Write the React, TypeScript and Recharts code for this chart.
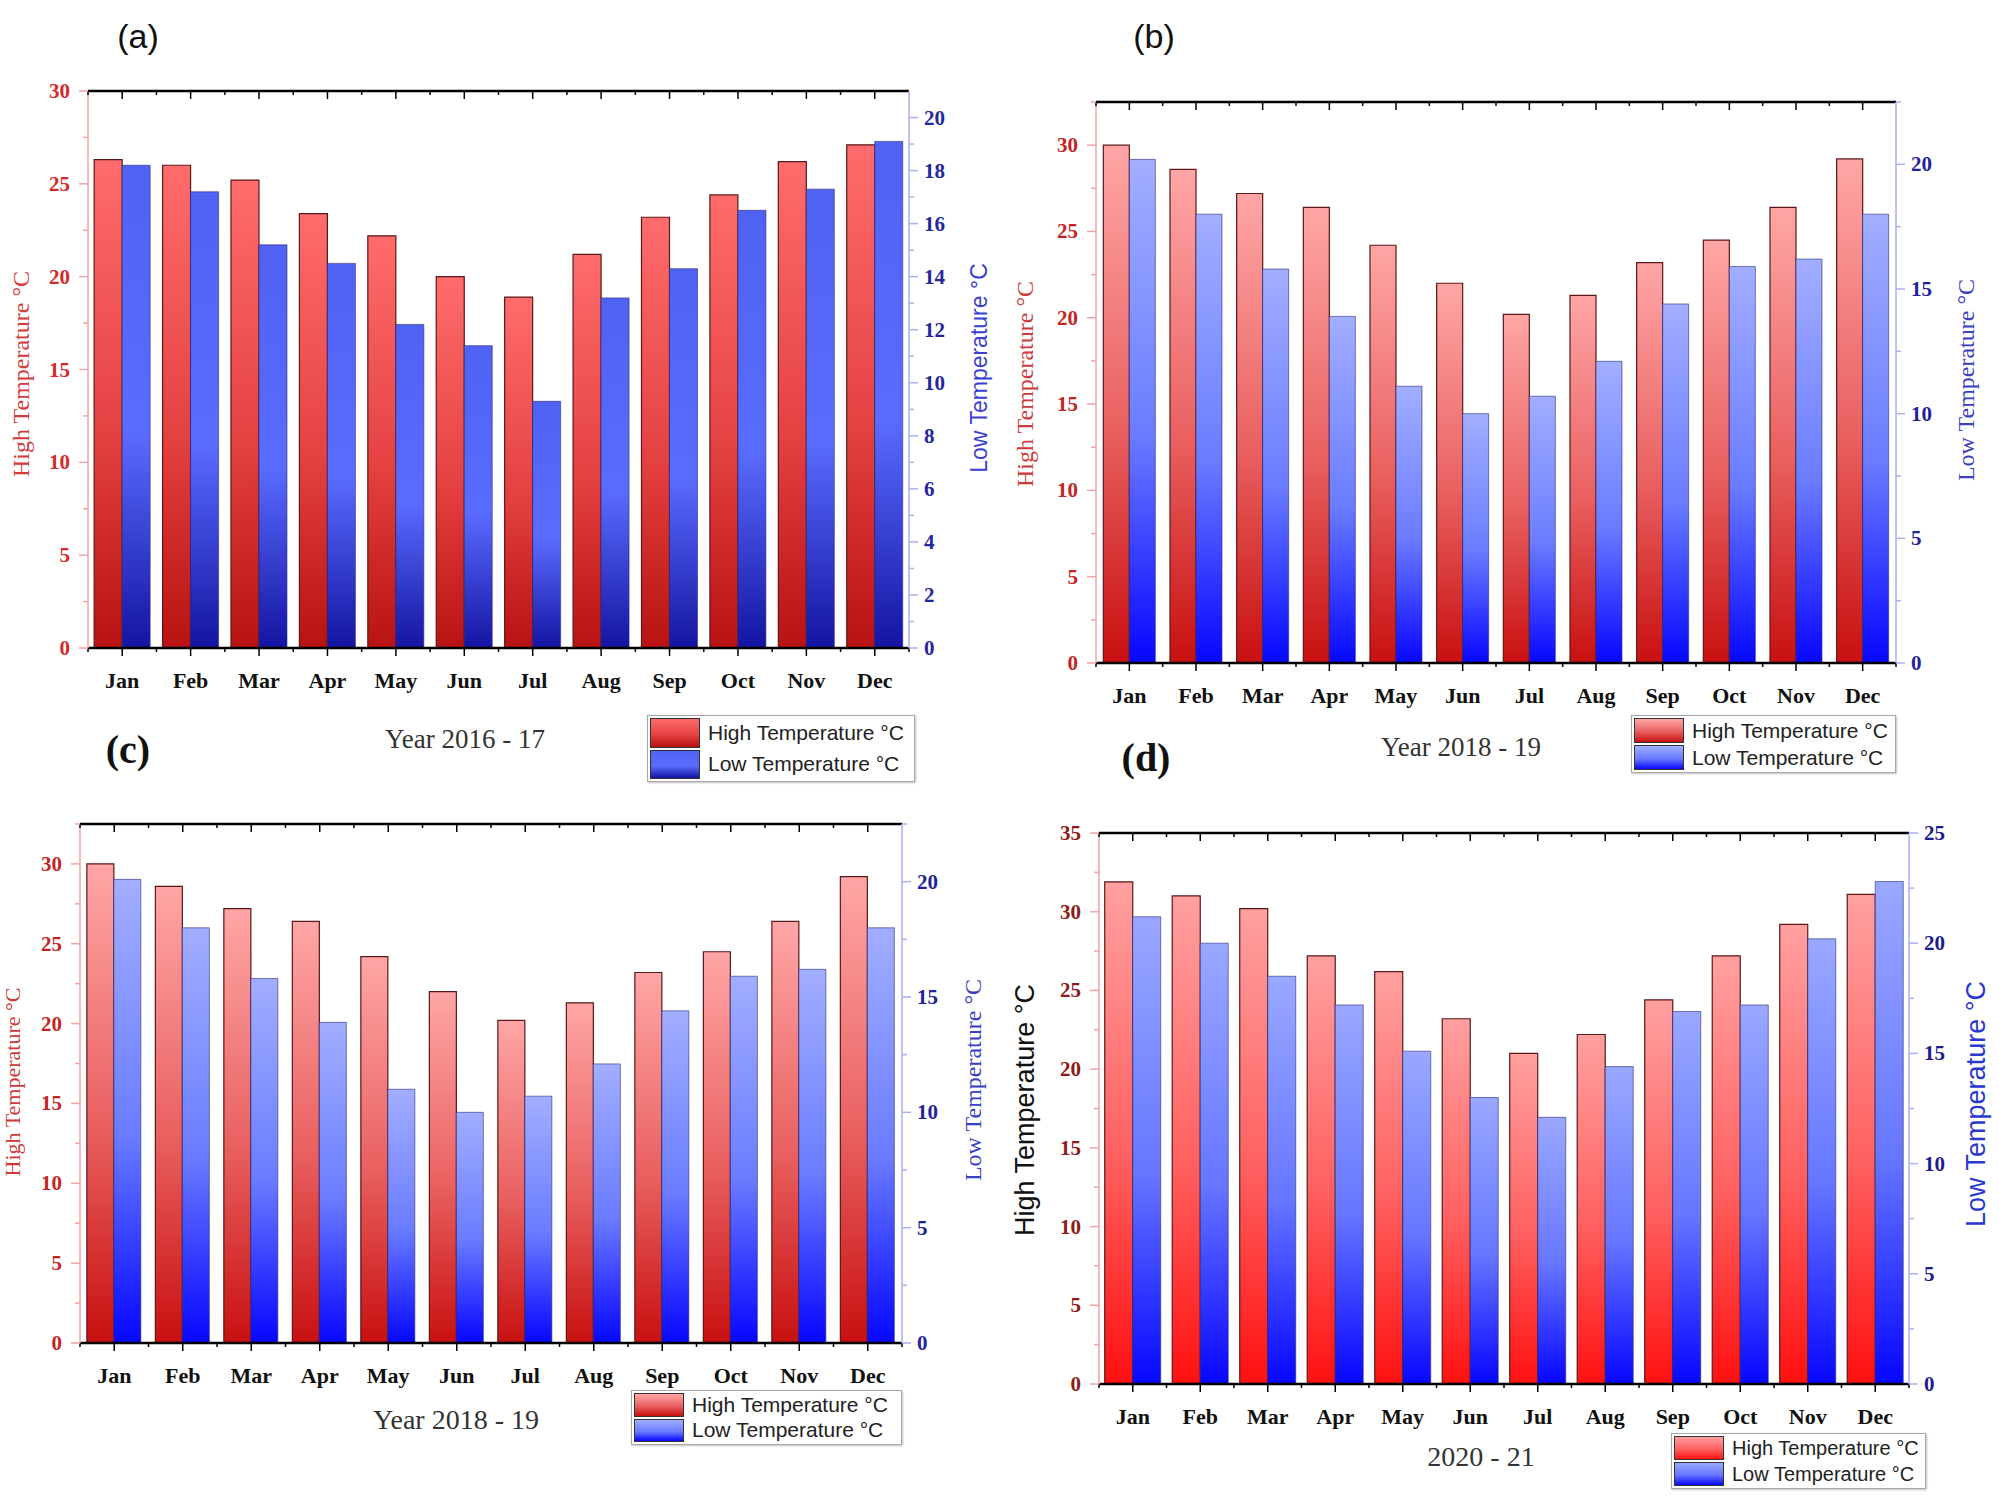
import React from 'react';
import { BarChart, Bar, XAxis, YAxis } from 'recharts';

// ---------------- DATA ----------------
const months = ['Jan', 'Feb', 'Mar', 'Apr', 'May', 'Jun', 'Jul', 'Aug', 'Sep', 'Oct', 'Nov', 'Dec'];

// (a) Year 2016 - 17
const highA = [26.3, 26.0, 25.2, 23.4, 22.2, 20.0, 18.9, 21.2, 23.2, 24.4, 26.2, 27.1];
const lowA = [18.2, 17.2, 15.2, 14.5, 12.2, 11.4, 9.3, 13.2, 14.3, 16.5, 17.3, 19.1];

// (b) Year 2018 - 19
const highB = [30.0, 28.6, 27.2, 26.4, 24.2, 22.0, 20.2, 21.3, 23.2, 24.5, 26.4, 29.2];
const lowB = [20.2, 18.0, 15.8, 13.9, 11.1, 10.0, 10.7, 12.1, 14.4, 15.9, 16.2, 18.0];

// (c) Year 2018 - 19
const highC = [30.0, 28.6, 27.2, 26.4, 24.2, 22.0, 20.2, 21.3, 23.2, 24.5, 26.4, 29.2];
const lowC = [20.1, 18.0, 15.8, 13.9, 11.0, 10.0, 10.7, 12.1, 14.4, 15.9, 16.2, 18.0];

// (d) 2020 - 21
const highD = [31.9, 31.0, 30.2, 27.2, 26.2, 23.2, 21.0, 22.2, 24.4, 27.2, 29.2, 31.1];
const lowD = [21.2, 20.0, 18.5, 17.2, 15.1, 13.0, 12.1, 14.4, 16.9, 17.2, 20.2, 22.8];

// tick labels
const leftTicksA = [0, 5, 10, 15, 20, 25, 30];
const leftMinorA = [2.5, 7.5, 12.5, 17.5, 22.5, 27.5];
const rightTicksA = [0, 2, 4, 6, 8, 10, 12, 14, 16, 18, 20];
const rightMinorA = [1, 3, 5, 7, 9, 11, 13, 15, 17, 19];

const leftTicksB = [0, 5, 10, 15, 20, 25, 30];
const leftMinorB = [2.5, 7.5, 12.5, 17.5, 22.5, 27.5, 32.5];
const rightTicksB = [0, 5, 10, 15, 20];
const rightMinorB = [2.5, 7.5, 12.5, 17.5, 22.5];

const leftTicksD = [0, 5, 10, 15, 20, 25, 30, 35];
const leftMinorD = [2.5, 7.5, 12.5, 17.5, 22.5, 27.5, 32.5];
const rightTicksD = [0, 5, 10, 15, 20, 25];
const rightMinorD = [2.5, 7.5, 12.5, 17.5, 22.5];

const seriesNames = ['High Temperature °C', 'Low Temperature °C'];

// ---------------- STYLE ----------------
const SERIF = '"Liberation Serif", "Times New Roman", serif';
const SANS = '"Liberation Sans", Arial, sans-serif';

type Grad = { red: [string, string, string]; blue: [string, string, string] };

const gradA: Grad = { red: ['#ff6c6c', '#e54242', '#b81212'], blue: ['#4f62f2', '#5a6cff', '#1414a2'] };
const gradB: Grad = { red: ['#ffa6a6', '#e96060', '#c81010'], blue: ['#a2aeff', '#6a7cff', '#0606ff'] };
const gradD: Grad = { red: ['#ffa0a0', '#ff6060', '#ff1010'], blue: ['#9aa8ff', '#6676ff', '#0606ff'] };

type PanelCfg = {
  id: string;
  high: number[];
  low: number[];
  box: { left: number; top: number; width: number; height: number };
  plot: { x0: number; y0: number; x1: number; y1: number };
  leftDomain: [number, number];
  rightDomain: [number, number];
  leftTicks: number[];
  leftMinor: number[];
  rightTicks: number[];
  rightMinor: number[];
  grad: Grad;
  leftTickColor: string;
  rightTickColor: string;
  gap: string;
};

const panels: PanelCfg[] = [
  {
    id: 'a', high: highA, low: lowA,
    box: { left: 0, top: 50, width: 1000, height: 700 },
    plot: { x0: 88, y0: 91, x1: 909, y1: 648 },
    leftDomain: [0, 30], rightDomain: [0, 21],
    leftTicks: leftTicksA, leftMinor: leftMinorA, rightTicks: rightTicksA, rightMinor: rightMinorA,
    grad: gradA, leftTickColor: '#d42a2a', rightTickColor: '#2626a0', gap: '9%',
  },
  {
    id: 'b', high: highB, low: lowB,
    box: { left: 1000, top: 50, width: 999, height: 700 },
    plot: { x0: 1096, y0: 102, x1: 1896, y1: 663 },
    leftDomain: [0, 32.5], rightDomain: [0, 22.5],
    leftTicks: leftTicksB, leftMinor: leftMinorB, rightTicks: rightTicksB, rightMinor: rightMinorB,
    grad: gradB, leftTickColor: '#c42424', rightTickColor: '#22229a', gap: '11%',
  },
  {
    id: 'c', high: highC, low: lowC,
    box: { left: 0, top: 780, width: 1000, height: 700 },
    plot: { x0: 80, y0: 824, x1: 902, y1: 1343 },
    leftDomain: [0, 32.5], rightDomain: [0, 22.5],
    leftTicks: leftTicksB, leftMinor: leftMinorB, rightTicks: rightTicksB, rightMinor: rightMinorB,
    grad: gradB, leftTickColor: '#c42424', rightTickColor: '#22229a', gap: '10%',
  },
  {
    id: 'd', high: highD, low: lowD,
    box: { left: 1000, top: 780, width: 999, height: 700 },
    plot: { x0: 1099, y0: 833, x1: 1909, y1: 1384 },
    leftDomain: [0, 35], rightDomain: [0, 25],
    leftTicks: leftTicksD, leftMinor: leftMinorD, rightTicks: rightTicksD, rightMinor: rightMinorD,
    grad: gradD, leftTickColor: '#8e1a1a', rightTickColor: '#1c1c8e', gap: '8.5%',
  },
];

const LEFT_AXIS = '#f0a4a4';
const RIGHT_AXIS = '#aab0f0';
const AX = 1; // thickness reserved for each axis box

function Panel({ cfg }: { cfg: PanelCfg }) {
  const { box, plot } = cfg;
  const data = months.map((m, i) => ({ month: m, high: cfg.high[i], low: cfg.low[i] }));
  const band = (plot.x1 - plot.x0) / months.length;
  const margin = {
    top: plot.y0 - box.top - AX,
    left: plot.x0 - box.left - AX,
    right: box.left + box.width - plot.x1 - AX,
    bottom: box.top + box.height - plot.y1 - AX,
  };

  const leftTick = (p: any) => {
    const v = p.payload.value;
    const major = cfg.leftTicks.includes(v);
    return (
      <g>
        <line x1={p.x} x2={p.x - (major ? 9 : 5)} y1={p.y} y2={p.y} stroke={LEFT_AXIS} strokeWidth={1.5} />
        {major && (
          <text x={p.x - 18} y={p.y} textAnchor="end" dominantBaseline="central" fill={cfg.leftTickColor}
            fontFamily={SERIF} fontWeight="bold" fontSize={21}>{v}</text>
        )}
      </g>
    );
  };
  const rightTick = (p: any) => {
    const v = p.payload.value;
    const major = cfg.rightTicks.includes(v);
    return (
      <g>
        <line x1={p.x} x2={p.x + (major ? 9 : 5)} y1={p.y} y2={p.y} stroke={RIGHT_AXIS} strokeWidth={1.5} />
        {major && (
          <text x={p.x + 15} y={p.y} textAnchor="start" dominantBaseline="central" fill={cfg.rightTickColor}
            fontFamily={SERIF} fontWeight="bold" fontSize={21}>{v}</text>
        )}
      </g>
    );
  };
  const bottomTick = (p: any) => {
    const idx = months.indexOf(p.payload.value);
    return (
      <g>
        <line x1={p.x} x2={p.x} y1={p.y} y2={p.y + 8} stroke="#000" strokeWidth={1.5} />
        <line x1={p.x - band / 2} x2={p.x - band / 2} y1={p.y} y2={p.y + 4} stroke="#000" strokeWidth={1.5} />
        {idx === months.length - 1 && (
          <line x1={p.x + band / 2} x2={p.x + band / 2} y1={p.y} y2={p.y + 4} stroke="#000" strokeWidth={1.5} />
        )}
        <text x={p.x} y={p.y + 32} textAnchor="middle" dominantBaseline="central" fill="#111"
          fontFamily={SERIF} fontWeight="bold" fontSize={22}>{p.payload.value}</text>
      </g>
    );
  };
  const topTick = (p: any) => (
    <g>
      <line x1={p.x} x2={p.x} y1={p.y} y2={p.y + 8} stroke="#000" strokeWidth={1.5} />
      <line x1={p.x - band / 2} x2={p.x - band / 2} y1={p.y} y2={p.y + 4} stroke="#000" strokeWidth={1.5} />
    </g>
  );

  const rid = `red-${cfg.id}`;
  const bid = `blue-${cfg.id}`;

  return (
    <div style={{ position: 'absolute', left: box.left, top: box.top, width: box.width, height: box.height }}>
      <BarChart width={box.width} height={box.height} data={data} margin={margin} barGap={0} barCategoryGap={cfg.gap}>
        <defs>
          <linearGradient id={rid} x1="0" y1="0" x2="0" y2="1">
            <stop offset="0%" stopColor={cfg.grad.red[0]} />
            <stop offset="55%" stopColor={cfg.grad.red[1]} />
            <stop offset="100%" stopColor={cfg.grad.red[2]} />
          </linearGradient>
          <linearGradient id={bid} x1="0" y1="0" x2="0" y2="1">
            <stop offset="0%" stopColor={cfg.grad.blue[0]} />
            <stop offset="55%" stopColor={cfg.grad.blue[1]} />
            <stop offset="100%" stopColor={cfg.grad.blue[2]} />
          </linearGradient>
        </defs>
        <XAxis xAxisId="b" dataKey="month" orientation="bottom" height={AX} interval={0}
          tickSize={0} tickMargin={0} tickLine={false} axisLine={{ stroke: '#000', strokeWidth: 2.5 }} tick={bottomTick} />
        <XAxis xAxisId="t" dataKey="month" orientation="top" height={AX} interval={0}
          tickSize={0} tickMargin={0} tickLine={false} axisLine={{ stroke: '#000', strokeWidth: 2.5 }} tick={topTick} />
        <YAxis yAxisId="L" orientation="left" width={AX} type="number" domain={cfg.leftDomain} allowDataOverflow
          ticks={[...cfg.leftTicks, ...cfg.leftMinor]} interval={0} tickSize={0} tickMargin={0} tickLine={false}
          axisLine={{ stroke: LEFT_AXIS, strokeWidth: 1.5 }} tick={leftTick} />
        <YAxis yAxisId="R" orientation="right" width={AX} type="number" domain={cfg.rightDomain} allowDataOverflow
          ticks={[...cfg.rightTicks, ...cfg.rightMinor]} interval={0} tickSize={0} tickMargin={0} tickLine={false}
          axisLine={{ stroke: RIGHT_AXIS, strokeWidth: 1.5 }} tick={rightTick} />
        <Bar xAxisId="b" yAxisId="L" dataKey="high" name={seriesNames[0]} fill={`url(#${rid})`}
          stroke="#5a1818" strokeWidth={1.2} isAnimationActive={false} />
        <Bar xAxisId="b" yAxisId="R" dataKey="low" name={seriesNames[1]} fill={`url(#${bid})`}
          stroke="#2a2a80" strokeWidth={0.6} isAnimationActive={false} />
      </BarChart>
    </div>
  );
}

function Txt({ x, y, children, style, rotate }: { x: number; y: number; children: React.ReactNode; style?: React.CSSProperties; rotate?: boolean }) {
  return (
    <div style={{
      position: 'absolute', left: x, top: y, whiteSpace: 'nowrap', lineHeight: 1,
      transform: `translate(-50%, -50%)${rotate ? ' rotate(-90deg)' : ''}`, ...style,
    }}>{children}</div>
  );
}

function LegendBox({ left, top, width, height, grad, fontSize }: { left: number; top: number; width: number; height: number; grad: Grad; fontSize: number }) {
  const rowH = (height - 4) / 2;
  const sw = (g: [string, string, string]): React.CSSProperties => ({
    width: 50, height: rowH - 2, boxSizing: 'border-box', border: '1.5px solid #333',
    background: `linear-gradient(to bottom, ${g[0]}, ${g[1]} 55%, ${g[2]})`, marginRight: 8, flexShrink: 0,
  });
  return (
    <div style={{
      position: 'absolute', left, top, width, height, boxSizing: 'border-box',
      border: '1.5px solid #a8a8a8', background: '#fff', boxShadow: '1px 1px 2px rgba(0,0,0,0.25)',
      padding: '1px 2px', fontFamily: SANS, fontSize, color: '#222',
    }}>
      {[grad.red, grad.blue].map((g, i) => (
        <div key={i} style={{ display: 'flex', alignItems: 'center', height: rowH }}>
          <div style={sw(g)} />
          <span>{seriesNames[i]}</span>
        </div>
      ))}
    </div>
  );
}

export default function App() {
  return (
    <div style={{ position: 'absolute', left: 0, top: 0, width: 1999, height: 1505, background: '#fff', overflow: 'hidden' }}>
      {panels.map((p) => <Panel key={p.id} cfg={p} />)}

      {/* panel letters */}
      <Txt x={138} y={36} style={{ fontFamily: SANS, fontSize: 34, color: '#111' }}>(a)</Txt>
      <Txt x={1154} y={36} style={{ fontFamily: SANS, fontSize: 34, color: '#111' }}>(b)</Txt>
      <Txt x={128} y={750} style={{ fontFamily: SERIF, fontWeight: 'bold', fontSize: 40, color: '#111' }}>(c)</Txt>
      <Txt x={1146} y={758} style={{ fontFamily: SERIF, fontWeight: 'bold', fontSize: 40, color: '#111' }}>(d)</Txt>

      {/* panel titles */}
      <Txt x={465} y={739} style={{ fontFamily: SERIF, fontSize: 27, color: '#333' }}>Year 2016 - 17</Txt>
      <Txt x={1461} y={747} style={{ fontFamily: SERIF, fontSize: 27, color: '#333' }}>Year 2018 - 19</Txt>
      <Txt x={456} y={1420} style={{ fontFamily: SERIF, fontSize: 28, color: '#333' }}>Year 2018 - 19</Txt>
      <Txt x={1481} y={1457} style={{ fontFamily: SERIF, fontSize: 28, color: '#333' }}>2020 - 21</Txt>

      {/* axis titles */}
      <Txt x={21} y={374} rotate style={{ fontFamily: SERIF, fontSize: 24, color: '#d43a3a' }}>High Temperature °C</Txt>
      <Txt x={979} y={368} rotate style={{ fontFamily: SANS, fontSize: 23, color: '#3a40d0' }}>Low Temperature °C</Txt>
      <Txt x={1025} y={384} rotate style={{ fontFamily: SERIF, fontSize: 24, color: '#cc3a3a' }}>High Temperature °C</Txt>
      <Txt x={1966} y={380} rotate style={{ fontFamily: SERIF, fontSize: 24, color: '#3a40c0' }}>Low Temperature °C</Txt>
      <Txt x={13} y={1082} rotate style={{ fontFamily: SERIF, fontSize: 22, color: '#cc3a3a' }}>High Temperature °C</Txt>
      <Txt x={973} y={1080} rotate style={{ fontFamily: SERIF, fontSize: 24, color: '#3a40c0' }}>Low Temperature °C</Txt>
      <Txt x={1025} y={1110} rotate style={{ fontFamily: SANS, fontSize: 27, color: '#111' }}>High Temperature °C</Txt>
      <Txt x={1976} y={1104} rotate style={{ fontFamily: SANS, fontSize: 27, color: '#2a38d0' }}>Low Temperature °C</Txt>

      {/* legends */}
      <LegendBox left={647} top={715} width={268} height={67} grad={gradA} fontSize={21} />
      <LegendBox left={1631} top={715} width={265} height={58} grad={gradB} fontSize={21} />
      <LegendBox left={631} top={1390} width={271} height={55} grad={gradB} fontSize={21} />
      <LegendBox left={1671} top={1433} width={255} height={56} grad={gradD} fontSize={20} />
    </div>
  );
}
